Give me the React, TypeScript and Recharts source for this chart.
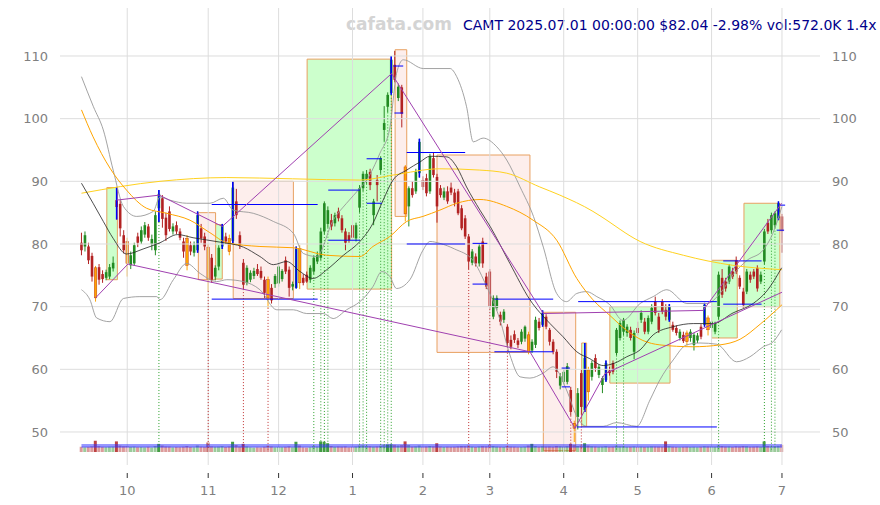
import React from 'react';
import {
  ComposedChart, Bar, Line, XAxis, YAxis,
  ReferenceArea, ReferenceLine, Cell,
} from 'recharts';

// daily OHLC, 2024-09-12 .. 2025-07-01 (index = trading day)
// kind: u = up, d = down, o = orange marker candle, b = blue marker candle
const candles: [number, number, number, number, string][] = [
  [80.2, 81.8, 78.2, 79.0, 'd'], [79.6, 82.0, 78.8, 81.4, 'u'], [79.6, 80.2, 76.8, 77.4, 'd'], [78.1, 78.6, 74.0, 74.8, 'd'],
  [76.2, 76.5, 70.8, 71.4, 'o'], [76.3, 76.8, 73.5, 74.3, 'd'], [75.2, 75.8, 73.8, 74.4, 'd'], [74.6, 75.9, 74.2, 75.5, 'u'],
  [74.8, 76.8, 74.4, 76.3, 'u'], [76.1, 78.0, 75.6, 77.0, 'u'], [87.0, 89.1, 83.9, 85.9, 'b'], [86.4, 87.0, 81.2, 82.5, 'd'],
  [81.4, 82.2, 78.5, 79.0, 'd'], [80.4, 81.0, 74.8, 76.9, 'o'], [76.6, 78.8, 76.0, 78.2, 'u'], [76.9, 80.2, 76.5, 79.8, 'u'],
  [81.2, 81.8, 79.5, 80.2, 'd'], [80.4, 82.8, 80.0, 82.2, 'u'], [81.5, 83.5, 81.0, 83.0, 'u'], [82.8, 83.2, 80.5, 81.0, 'd'],
  [80.0, 81.5, 79.0, 80.8, 'u'], [79.0, 85.2, 78.2, 84.6, 'u'], [85.7, 88.6, 83.5, 88.0, 'b'], [87.3, 87.8, 82.6, 84.0, 'd'],
  [84.2, 85.0, 80.5, 81.4, 'd'], [85.2, 86.0, 82.0, 82.4, 'd'], [82.0, 83.3, 81.5, 82.8, 'u'], [83.0, 83.6, 81.6, 82.0, 'd'],
  [82.0, 82.5, 80.6, 81.0, 'd'], [80.4, 81.0, 77.8, 78.8, 'd'], [80.9, 81.4, 75.8, 76.6, 'o'], [79.8, 80.4, 78.2, 78.8, 'd'],
  [78.6, 80.4, 78.0, 79.8, 'u'], [79.0, 85.2, 78.6, 84.6, 'b'], [82.5, 83.2, 80.2, 80.9, 'd'], [81.2, 81.8, 79.0, 79.6, 'd'],
  [79.5, 80.0, 72.5, 74.3, 'o'], [77.8, 78.4, 73.8, 74.3, 'd'], [74.8, 76.6, 74.2, 76.2, 'u'], [76.4, 79.8, 75.8, 79.4, 'u'],
  [79.6, 83.2, 79.2, 83.0, 'b'], [81.2, 81.8, 80.0, 80.4, 'd'], [80.9, 81.5, 78.2, 78.8, 'o'], [80.5, 90.0, 80.1, 89.0, 'b'],
  [86.8, 88.8, 84.0, 84.6, 'd'], [81.4, 82.0, 79.2, 79.8, 'd'], [77.0, 77.6, 72.8, 73.5, 'd'], [73.8, 76.6, 73.4, 76.2, 'u'],
  [74.3, 75.8, 73.9, 75.4, 'u'], [74.9, 76.2, 74.4, 75.7, 'u'], [76.0, 76.8, 74.9, 75.2, 'd'], [75.7, 76.4, 74.3, 74.6, 'd'],
  [74.3, 74.8, 71.4, 72.2, 'd'], [74.3, 74.8, 69.8, 71.4, 'o'], [73.0, 73.6, 70.5, 71.0, 'd'], [73.6, 75.2, 73.0, 74.9, 'u'],
  [73.7, 76.8, 73.2, 76.4, 'u'], [74.4, 76.0, 74.0, 75.7, 'u'], [77.4, 78.0, 75.2, 75.6, 'd'], [75.9, 76.4, 71.6, 73.0, 'd'],
  [73.2, 74.0, 72.6, 73.6, 'u'], [73.0, 79.6, 72.9, 79.2, 'b'], [79.3, 79.8, 72.8, 73.8, 'o'], [74.6, 75.2, 73.4, 73.8, 'd'],
  [75.1, 75.6, 73.8, 74.0, 'd'], [74.3, 76.6, 73.8, 76.2, 'u'], [75.6, 78.2, 75.2, 77.8, 'u'], [77.2, 78.8, 76.8, 78.2, 'u'],
  [77.8, 82.6, 77.4, 82.0, 'u'], [82.0, 86.8, 81.6, 86.5, 'u'], [83.2, 86.0, 82.6, 85.4, 'u'], [83.8, 84.8, 82.2, 82.8, 'd'],
  [83.3, 85.0, 82.8, 84.6, 'u'], [85.2, 85.8, 83.6, 84.1, 'd'], [84.1, 84.6, 81.8, 82.2, 'd'], [82.0, 82.5, 79.0, 80.2, 'd'],
  [81.4, 81.9, 80.2, 80.6, 'd'], [83.0, 83.8, 80.4, 81.0, 'd'], [80.9, 83.4, 80.4, 83.0, 'u'], [85.8, 89.4, 85.0, 88.9, 'u'],
  [88.9, 91.6, 88.4, 91.2, 'u'], [90.2, 91.8, 89.6, 91.2, 'u'], [91.5, 92.0, 88.6, 89.4, 'd'], [84.6, 87.2, 83.0, 86.8, 'u'],
  [90.2, 91.0, 86.8, 89.4, 'd'], [91.8, 94.0, 91.2, 93.7, 'u'], [98.2, 102.0, 96.4, 99.3, 'u'], [101.9, 104.2, 101.0, 103.8, 'u'],
  [104.1, 110.0, 103.8, 109.4, 'b'], [108.6, 110.8, 105.8, 106.2, 'd'], [103.3, 105.6, 102.8, 105.1, 'u'], [105.0, 105.4, 98.6, 100.8, 'd'],
  [92.3, 92.6, 83.6, 84.8, 'o'], [86.0, 89.2, 82.8, 88.9, 'u'], [88.9, 90.0, 87.4, 87.8, 'd'], [88.4, 92.0, 88.0, 91.5, 'u'],
  [91.3, 96.8, 90.6, 96.3, 'b'], [90.2, 90.8, 88.6, 89.1, 'd'], [90.5, 91.2, 87.6, 88.1, 'd'], [88.4, 94.4, 88.0, 94.0, 'u'],
  [93.7, 94.6, 90.6, 91.0, 'd'], [90.7, 91.2, 83.4, 86.0, 'd'], [88.9, 89.4, 87.4, 87.8, 'd'], [87.4, 89.0, 87.0, 88.4, 'u'],
  [88.4, 89.2, 86.4, 86.8, 'd'], [89.0, 89.8, 87.8, 88.2, 'd'], [88.2, 88.8, 86.0, 86.6, 'd'], [88.4, 88.8, 84.6, 84.9, 'd'],
  [85.7, 86.2, 82.2, 82.5, 'd'], [84.1, 84.6, 80.8, 81.2, 'd'], [81.2, 81.6, 76.0, 77.2, 'd'], [77.0, 79.2, 76.6, 78.8, 'u'],
  [78.0, 78.5, 76.4, 76.9, 'd'], [76.9, 80.0, 76.4, 79.6, 'u'], [80.4, 81.0, 76.2, 76.9, 'd'], [74.8, 75.4, 72.8, 73.2, 'd'],
  [75.6, 76.0, 69.6, 70.0, 'd'], [68.4, 71.8, 68.0, 71.4, 'u'], [69.8, 71.8, 69.4, 71.4, 'u'], [68.7, 69.2, 67.0, 67.6, 'd'],
  [67.9, 69.6, 67.4, 69.2, 'u'], [66.8, 67.2, 63.6, 64.2, 'd'], [64.7, 65.4, 63.2, 63.6, 'd'], [65.6, 66.2, 64.2, 64.7, 'd'],
  [64.6, 65.0, 63.4, 63.9, 'd'], [64.4, 66.4, 64.0, 66.0, 'u'], [64.9, 67.0, 64.4, 66.8, 'u'], [65.5, 66.0, 62.4, 62.8, 'o'],
  [63.0, 64.8, 62.6, 64.4, 'u'], [63.9, 68.4, 63.4, 67.9, 'u'], [67.6, 68.2, 66.2, 66.6, 'd'], [67.1, 69.4, 66.8, 69.0, 'b'],
  [68.4, 68.8, 66.4, 66.8, 'd'], [66.3, 66.6, 63.8, 64.4, 'd'], [64.4, 64.8, 62.4, 62.8, 'd'], [62.8, 63.2, 58.6, 59.6, 'd'],
  [57.4, 59.4, 56.8, 58.9, 'u'], [58.0, 60.2, 57.6, 59.6, 'u'], [58.0, 61.0, 57.6, 60.5, 'u'], [56.7, 57.2, 52.6, 53.2, 'd'],
  [51.4, 51.8, 48.4, 50.6, 'o'], [52.4, 57.0, 50.4, 56.2, 'u'], [59.4, 60.0, 52.8, 54.0, 'd'], [53.5, 64.2, 53.2, 61.8, 'b'],
  [59.9, 60.4, 55.0, 56.4, 'o'], [58.8, 61.4, 58.2, 61.0, 'u'], [61.8, 62.4, 59.6, 60.2, 'd'], [59.1, 60.8, 58.6, 60.4, 'u'],
  [57.5, 58.9, 56.2, 58.6, 'u'], [58.3, 61.4, 58.0, 61.0, 'b'], [59.8, 60.4, 59.0, 59.4, 'd'], [61.0, 61.4, 59.2, 59.6, 'd'],
  [62.6, 66.6, 62.2, 66.3, 'u'], [65.0, 67.8, 64.6, 67.4, 'u'], [66.0, 68.2, 65.4, 67.9, 'u'], [65.8, 67.2, 65.2, 66.8, 'u'],
  [66.3, 66.8, 64.6, 65.0, 'd'], [62.8, 66.2, 61.6, 65.8, 'u'], [66.6, 67.6, 65.4, 65.8, 'd'], [67.9, 69.4, 67.4, 69.0, 'u'],
  [67.6, 68.2, 65.6, 66.0, 'd'], [66.0, 68.6, 65.6, 68.2, 'u'], [67.6, 70.4, 67.2, 69.8, 'u'], [70.8, 71.6, 68.6, 69.0, 'd'],
  [68.4, 69.0, 65.8, 66.3, 'd'], [70.8, 71.2, 68.8, 69.2, 'd'], [69.5, 70.4, 67.8, 68.4, 'd'], [67.9, 70.4, 67.6, 70.0, 'b'],
  [67.1, 67.6, 66.0, 66.3, 'd'], [66.6, 67.0, 65.4, 65.8, 'd'], [65.0, 66.4, 64.6, 66.0, 'u'], [65.5, 66.0, 64.2, 64.5, 'd'],
  [65.8, 66.2, 63.8, 64.4, 'o'], [65.0, 66.4, 64.4, 66.0, 'u'], [63.9, 65.8, 63.0, 65.5, 'u'], [64.6, 65.8, 64.2, 65.4, 'u'],
  [66.8, 67.2, 64.8, 65.2, 'd'], [67.1, 70.6, 66.8, 70.3, 'b'], [68.2, 68.6, 65.4, 66.3, 'o'], [66.6, 67.8, 66.0, 67.6, 'u'],
  [66.0, 67.6, 65.6, 67.4, 'u'], [68.4, 75.6, 68.0, 75.1, 'u'], [74.6, 76.0, 71.4, 71.9, 'd'], [74.0, 74.6, 72.4, 72.9, 'd'],
  [74.0, 76.8, 73.6, 76.4, 'u'], [75.6, 76.2, 74.4, 74.8, 'd'], [77.4, 78.0, 75.2, 75.6, 'd'], [74.6, 75.0, 72.8, 73.2, 'd'],
  [72.4, 73.0, 69.8, 70.3, 'd'], [72.4, 76.0, 72.0, 75.6, 'u'], [75.1, 75.6, 73.8, 74.3, 'd'], [75.6, 76.0, 74.4, 74.8, 'd'],
  [76.2, 76.6, 72.4, 72.9, 'd'], [74.0, 75.6, 73.6, 75.1, 'u'], [77.2, 82.4, 76.8, 82.0, 'u'], [83.4, 84.0, 81.6, 82.0, 'd'],
  [82.2, 85.0, 81.8, 84.6, 'u'], [83.0, 85.2, 82.6, 84.9, 'u'], [84.1, 86.8, 83.8, 86.5, 'b'], [84.4, 84.8, 78.6, 82.04, 'd'],
];

// volume in thousands of shares
const volumes = [
  420, 380, 400, 450, 900, 470, 410, 390, 420, 430,
  850, 520, 460, 480, 410, 430, 390, 400, 380, 410,
  370, 480, 650, 520, 440, 430, 380, 400, 390, 420,
  480, 400, 380, 520, 430, 410, 760, 450, 420, 430,
  470, 400, 440, 820, 560, 430, 650, 440, 380, 360,
  390, 370, 420, 500, 440, 380, 400, 390, 410, 450,
  380, 820, 520, 380, 360, 390, 480, 430, 850, 820,
  700, 480, 420, 440, 430, 450, 380, 410, 440, 520,
  540, 480, 460, 430, 450, 500, 560, 600, 620, 580,
  520, 560, 850, 560, 430, 450, 520, 420, 440, 480,
  450, 700, 430, 400, 420, 410, 420, 450, 480, 470,
  520, 430, 400, 440, 470, 450, 560, 480, 430, 410,
  400, 480, 430, 420, 390, 400, 420, 520, 650, 480,
  420, 460, 430, 440, 420, 480, 450, 420, 460, 650,
  560, 480, 520, 700, 520, 460, 440, 420, 430, 470,
  420, 430, 500, 450, 460, 410, 420, 440, 400, 430,
  410, 420, 450, 440, 430, 420, 850, 460, 420, 400,
  390, 410, 420, 400, 410, 390, 420, 460, 440, 430,
  420, 520, 480, 440, 450, 420, 460, 440, 480, 460,
  420, 430, 450, 420, 850, 480, 440, 460, 500, 572,
];
const volumeLevels = [560, 409];

const monthTicks = [13, 36, 56, 77, 97, 116, 137, 158, 179, 199];
const monthLabels = ['10', '11', '12', '1', '2', '3', '4', '5', '6', '7'];
const priceTicks = [50, 60, 70, 80, 90, 100, 110];

// indicator lines, [day index, price]
const bbUpper: [number, number][] = [
  [0, 106.7], [3.4, 101.9], [6.2, 98.2], [9, 91.8], [11.9, 86.0], [15.7, 84.4], [20.4, 85.2], [22.3, 87.5],
  [25.1, 87.0], [29.9, 86.5], [36.5, 86.5], [40.3, 87.3], [43.1, 85.4], [48.8, 84.9], [54.5, 83.6], [60.2, 81.7],
  [63, 78.5], [66.8, 78.0], [71.5, 83.8], [75.3, 86.5], [79.1, 88.9], [81, 90.2], [84.8, 94.5], [87.6, 98.5],
  [89.5, 107.2], [91.4, 109.4], [97.1, 108.0], [104.7, 108.0], [106.6, 106.7], [109.4, 101.9], [111.3, 96.3],
  [114.1, 96.9], [118, 95.5], [120.8, 93.4], [124.6, 89.1], [128.4, 84.4], [131.2, 79.5], [135, 72.1],
  [137.8, 70.8], [140.7, 72.1], [143.5, 72.4], [146.4, 71.6], [150.1, 70.3], [153.8, 67.8], [158.7, 70.5],
  [162.4, 71.6], [166.3, 72.7], [172, 70.5], [177.7, 70.5], [181.4, 72.1], [185.1, 75.1], [189.1, 77.4],
  [193.6, 79.0], [196.4, 81.7], [199, 86.0],
];
const bbLower: [number, number][] = [
  [0, 72.7], [2.4, 71.1], [4.3, 68.2], [8.1, 67.6], [11.9, 71.3], [16.6, 71.6], [21.4, 71.6], [22.3, 71.1],
  [26.1, 74.3], [29.9, 76.9], [33.7, 75.3], [38.4, 74.0], [41.3, 74.3], [46, 74.0], [50.7, 72.7], [55.5, 69.5],
  [60.2, 69.5], [64, 68.9], [68.7, 68.9], [71.5, 68.1], [75.3, 69.5], [79.1, 70.8], [82.8, 73.2], [85.3, 75.6],
  [87.6, 74.8], [89.5, 72.9], [93.3, 74.3], [97, 79.0], [99, 80.4], [101.8, 80.1], [106, 79.2], [111.2, 77.4],
  [115.1, 73.2], [118.9, 67.9], [121.7, 62.3], [124.6, 58.8], [127.4, 58.6], [131.2, 59.4], [134, 60.4],
  [137.8, 56.7], [140.7, 52.5], [143.5, 50.9], [148.2, 50.9], [152, 51.5], [157.7, 50.9], [161.5, 55.1],
  [164.3, 58.3], [168.1, 61.5], [171.9, 63.9], [175.7, 64.2], [180.5, 64.0], [186.1, 61.2], [189.9, 62.0],
  [193.7, 63.6], [196.5, 64.4], [198.9, 66.3],
];
const maShort: [number, number][] = [
  [0, 89.7], [3.3, 86.5], [6.2, 83.6], [9, 80.9], [12.8, 78.4], [17.5, 79.2], [22.3, 80.2], [27.3, 81.5],
  [31.7, 81.0], [39.3, 80.3], [46, 79.5], [50.7, 78.0], [54.5, 76.7], [58.3, 77.2], [62.1, 75.6], [65.8, 74.5],
  [69.7, 75.9], [74.4, 78.2], [79.1, 80.4], [82.8, 83.3], [85.7, 87.0], [88.5, 90.2], [92.4, 91.8], [96.2, 93.1],
  [99, 94.0], [103.8, 93.9], [106.6, 92.3], [109.4, 89.1], [113.2, 85.4], [116.1, 82.8], [121.7, 76.9],
  [127.4, 71.1], [133.1, 67.3], [136.8, 65.2], [140.7, 62.8], [144.4, 61.7], [148.2, 60.6], [151.5, 61.0],
  [154.9, 62.0], [158.7, 63.1], [162.4, 65.5], [168.1, 66.8], [173.8, 67.3], [179.4, 67.3], [185.1, 69.0],
  [190.8, 70.5], [194.7, 72.5], [198.9, 76.2],
];
const maMid: [number, number][] = [
  [0, 101.4], [3.3, 97.1], [8.1, 92.1], [12.8, 88.6], [18.5, 85.7], [24.2, 84.9], [30.8, 83.8], [36.5, 81.8],
  [41.3, 80.2], [50.7, 79.6], [60.2, 79.4], [69.7, 78.2], [79.1, 78.0], [82.8, 79.6], [87.6, 81.2], [92.4, 83.6],
  [97, 84.4], [101.8, 85.4], [106.6, 86.5], [113.2, 87.1], [120.8, 86.0], [128.3, 83.8], [135, 80.6],
  [140.7, 74.5], [145.3, 71.1], [150.1, 68.6], [154.9, 66.2], [159.5, 64.6], [164.3, 63.9], [173.7, 63.6],
  [181.4, 63.9], [187.1, 64.8], [192.8, 67.2], [199, 70.3],
];
const maLong: [number, number][] = [
  [0, 88.1], [22.3, 90.0], [41.3, 90.6], [60, 90.4], [79.1, 90.2], [88.5, 91.0], [101.8, 92.0], [113, 91.8],
  [120.8, 91.3], [130.2, 89.1], [135.9, 87.8], [145.3, 85.2], [147.3, 84.5], [158.7, 80.4], [171, 78.2],
  [185, 76.6], [199, 75.9],
];

// zigzag trend lines
const zigzagHigh: [number, number][] = [[10, 87.0], [22.1, 87.8], [40, 82.8], [88.1, 107.2], [131.2, 68.9], [176.6, 69.4], [198.9, 86.5]];
const zigzagLow: [number, number][] = [[4, 71.4], [13.2, 76.8], [127.4, 62.8], [140.2, 50.6], [148.7, 59.3], [199, 72.3]];

// boxes [from, to, low, high]
const greenBoxes: [number, number, number, number][] = [
  [7.2, 10.2, 74.3, 89.0], [38.1, 40.0, 74.4, 83.1], [64.1, 88.1, 72.8, 109.5], [142.1, 143.5, 50.9, 64.2],
  [150.1, 167.2, 57.8, 70.0], [179.0, 186.3, 65.0, 77.4], [188.2, 198.4, 70.0, 86.5],
];
const redBoxes: [number, number, number, number][] = [
  [33.2, 38.1, 74.3, 85.0], [43.1, 60.2, 71.3, 90.0], [89.1, 92.4, 84.4, 111.0], [101.0, 127.4, 62.7, 94.2],
  [131.2, 140.4, 47.0, 69.1],
];

// blue levels [from, to, price]
const levels: [number, number, number][] = [
  [37.0, 67.1, 86.3], [37.0, 67.1, 71.2], [70.1, 79.1, 88.6], [70.1, 79.1, 80.6], [81.0, 85.3, 93.6],
  [81.0, 85.3, 86.5], [88.6, 91.4, 108.4], [88.9, 91.4, 100.9], [92.4, 109.0, 94.6], [92.4, 109.0, 80.0],
  [111.1, 115.3, 80.1], [111.1, 115.3, 73.6], [117.3, 134.0, 71.2], [117.3, 134.0, 62.8], [136.4, 138.8, 60.2],
  [136.4, 138.8, 57.2], [141.1, 180.5, 70.8], [140.7, 180.5, 50.8], [182.3, 193.2, 77.3], [182.3, 193.2, 70.4],
  [198.4, 199.9, 86.2], [197.5, 199.6, 82.2],
];

const buySignals = [22, 66, 68, 69, 70, 79, 80, 81, 85, 86, 87, 88, 152, 154, 181, 194, 196, 197];
const sellSignals = [36, 46, 53, 110, 116, 121, 139, 142];
const signalFloor = 47.2;

const X_DOMAIN: [number, number] = [-6.1, 209.8];
const Y_DOMAIN: [number, number] = [44.73, 117.66];
const VOL_DOMAIN: [number, number] = [-1040, 35520];

const UP = '#228b22';
const DOWN = '#b22222';
const GRID = '#dddddd';

const rows = candles.map(([o, h, l, c, kind], i) => ({ i, o, h, l, c, kind, range: [l, h], vol: volumes[i] }));
const pts = (arr: [number, number][]) => arr.map(([i, v]) => ({ i, v }));

function Candle(props: any) {
  const { x, y, width, height, payload } = props;
  if (!payload || payload.o == null) return null;
  const { o, h, l, c, kind } = payload;
  const cx = x + width / 2;
  const span = h - l || 1;
  const py = (v: number) => y + ((h - v) / span) * height;
  const top = py(Math.max(o, c));
  const bot = py(Math.min(o, c));
  const base = c >= o ? UP : DOWN;
  const body = kind === 'o' ? '#ffa500' : base;
  return (
    <g>
      <line x1={cx} x2={cx} y1={y} y2={y + height} stroke={kind === 'o' ? '#ffa500' : base} strokeWidth={1} />
      <rect x={cx - 1.3} y={top} width={2.6} height={Math.max(bot - top, 0.8)} fill={body}
        stroke={kind === 'o' ? base : 'none'} strokeWidth={0.4} />
      {kind === 'b' && <line x1={cx} x2={cx} y1={y} y2={y + height} stroke="#0000ff" strokeWidth={1.6} />}
    </g>
  );
}

function MonthTick(props: any) {
  const { x, y, payload } = props;
  const label = monthLabels[monthTicks.indexOf(payload.value)];
  return (
    <g>
      <line x1={x} x2={x} y1={y + 6} y2={y + 11} stroke="#333" strokeWidth={1} />
      <text x={x} y={y + 28} textAnchor="middle" fill="#808080" fontSize={13}>{label}</text>
    </g>
  );
}

export default function App() {
  return (
    <div style={{ position: 'absolute', left: 0, top: 0, width: 880, height: 505, background: '#fff', fontFamily: 'DejaVu Sans' }}>
      <div style={{ position: 'absolute', left: 346, top: 14, fontSize: 17, fontWeight: 'bold', color: '#d4d4d4', whiteSpace: 'nowrap' }}>
        cafata.com
      </div>
      <div style={{ position: 'absolute', left: 463, top: 17, fontSize: 14, color: '#00008b', whiteSpace: 'nowrap' }}>
        CAMT 2025.07.01 00:00:00 $82.04 -2.98% vol:572.0K 1.4x
      </div>
      <ComposedChart width={880} height={505} data={rows} margin={{ top: 8, right: 10, bottom: 0, left: 10 }}>
        <XAxis xAxisId="x" type="number" dataKey="i" domain={X_DOMAIN} ticks={monthTicks} allowDataOverflow
          axisLine={false} tickLine={false} tickSize={0} height={40} interval={0} tick={<MonthTick />} />
        <XAxis xAxisId="xv" type="number" dataKey="i" domain={X_DOMAIN} allowDataOverflow hide />
        <YAxis yAxisId="p" domain={Y_DOMAIN} ticks={priceTicks} allowDataOverflow axisLine={false} tickLine={false}
          tickSize={0} tickMargin={12} width={50} tick={{ fill: '#808080', fontSize: 13 }} />
        <YAxis yAxisId="r" orientation="right" domain={Y_DOMAIN} ticks={priceTicks} allowDataOverflow axisLine={false}
          tickLine={false} tickSize={0} tickMargin={12} width={50} tick={{ fill: '#808080', fontSize: 13 }} />
        <YAxis yAxisId="v" domain={VOL_DOMAIN} allowDataOverflow hide />

        {/* grid at the month and price ticks */}
        {monthTicks.map((t) => (
          <ReferenceLine key={'gx' + t} xAxisId="x" yAxisId="p" x={t} stroke={GRID} strokeWidth={1} />
        ))}
        {priceTicks.map((t) => (
          <ReferenceLine key={'gy' + t} xAxisId="x" yAxisId="p" y={t} stroke={GRID} strokeWidth={1} />
        ))}

        {greenBoxes.map(([a, b, lo, hi], k) => (
          <ReferenceArea key={'gb' + k} xAxisId="x" yAxisId="p" x1={a} x2={b} y1={lo} y2={hi}
            fill="#ccffcc" fillOpacity={1} stroke="#e8a060" strokeWidth={1} />
        ))}
        {redBoxes.map(([a, b, lo, hi], k) => (
          <ReferenceArea key={'rb' + k} xAxisId="x" yAxisId="p" x1={a} x2={b} y1={lo} y2={hi}
            fill="#fdeeec" fillOpacity={1} stroke="#e8a060" strokeWidth={1} />
        ))}

        <Bar xAxisId="xv" yAxisId="v" dataKey="vol" barSize={3} isAnimationActive={false}>
          {rows.map((r) => (
            <Cell key={r.i} fill={r.c >= r.o ? UP : DOWN} fillOpacity={r.vol >= 600 ? 0.85 : 0.45} />
          ))}
        </Bar>
        {volumeLevels.map((v, k) => (
          <ReferenceLine key={'vl' + k} xAxisId="xv" yAxisId="v" segment={[{ x: 0, y: v }, { x: 199, y: v }]}
            stroke="#3030ff" strokeWidth={1} />
        ))}

        {buySignals.map((i) => (
          <ReferenceLine key={'bs' + i} xAxisId="x" yAxisId="p" segment={[{ x: i, y: candles[i][2] }, { x: i, y: signalFloor }]}
            stroke="#2ca02c" strokeWidth={1} strokeDasharray="1 2" />
        ))}
        {sellSignals.map((i) => (
          <ReferenceLine key={'ss' + i} xAxisId="x" yAxisId="p" segment={[{ x: i, y: candles[i][2] }, { x: i, y: signalFloor }]}
            stroke="#c03030" strokeWidth={1} strokeDasharray="1 2" />
        ))}

        <Line xAxisId="x" yAxisId="p" data={pts(bbUpper)} dataKey="v" type="monotone" stroke="#999999" strokeWidth={0.9} dot={false} isAnimationActive={false} />
        <Line xAxisId="x" yAxisId="p" data={pts(bbLower)} dataKey="v" type="monotone" stroke="#999999" strokeWidth={0.9} dot={false} isAnimationActive={false} />
        <Line xAxisId="x" yAxisId="p" data={pts(maLong)} dataKey="v" type="monotone" stroke="#ffd21f" strokeWidth={1} dot={false} isAnimationActive={false} />
        <Line xAxisId="x" yAxisId="p" data={pts(maMid)} dataKey="v" type="monotone" stroke="#ffa500" strokeWidth={1} dot={false} isAnimationActive={false} />
        <Line xAxisId="x" yAxisId="p" data={pts(maShort)} dataKey="v" type="monotone" stroke="#222222" strokeWidth={0.8} dot={false} isAnimationActive={false} />

        <Bar xAxisId="x" yAxisId="p" dataKey="range" barSize={3} isAnimationActive={false} shape={(p: any) => <Candle {...p} />} />

        {levels.map(([a, b, v], k) => (
          <ReferenceLine key={'lv' + k} xAxisId="x" yAxisId="p" segment={[{ x: a, y: v }, { x: b, y: v }]}
            stroke="#0000ff" strokeWidth={1} />
        ))}
        <Line xAxisId="x" yAxisId="p" data={pts(zigzagHigh)} dataKey="v" type="linear" stroke="#a040b0" strokeWidth={1} dot={false} isAnimationActive={false} />
        <Line xAxisId="x" yAxisId="p" data={pts(zigzagLow)} dataKey="v" type="linear" stroke="#a040b0" strokeWidth={1} dot={false} isAnimationActive={false} />
      </ComposedChart>
    </div>
  );
}
